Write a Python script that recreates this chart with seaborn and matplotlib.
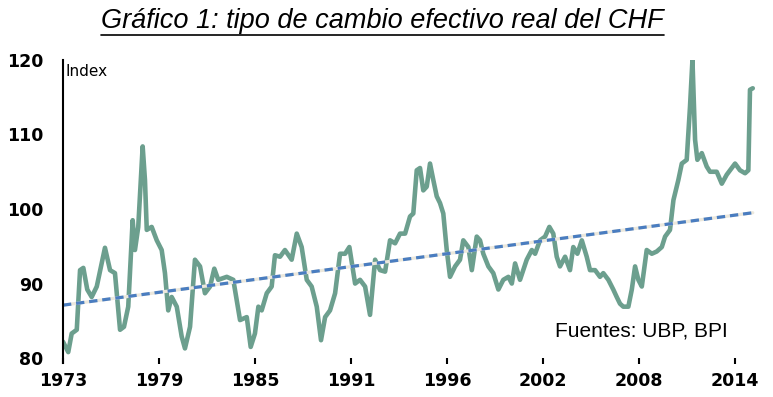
"""Gráfico 1: tipo de cambio efectivo real del CHF (index, with linear trend)."""

import matplotlib as mpl
import matplotlib.pyplot as plt
import numpy as np
import pandas as pd
import seaborn as sns
from matplotlib.lines import Line2D

# --- data --------------------------------------------------------------
years = [
    1973.00, 1973.32, 1973.53, 1973.84, 1974.04, 1974.24, 1974.48, 1974.75,
    1975.06, 1975.56, 1975.87, 1976.17, 1976.48, 1976.72, 1976.98, 1977.25,
    1977.39, 1977.59, 1977.86, 1978.00, 1978.11, 1978.41, 1978.72, 1979.02,
    1979.22, 1979.42, 1979.63, 1979.94, 1980.24, 1980.44, 1980.75, 1981.05,
    1981.36, 1981.66, 1981.97, 1982.23, 1982.47, 1982.99, 1983.39, 1983.80,
    1984.21, 1984.45, 1984.71, 1984.92, 1985.12, 1985.43, 1985.73, 1985.93,
    1986.24, 1986.54, 1986.95, 1987.26, 1987.56, 1987.87, 1988.17, 1988.48,
    1988.74, 1988.99, 1989.29, 1989.60, 1989.90, 1990.21, 1990.47, 1990.82,
    1991.12, 1991.43, 1991.73, 1992.04, 1992.34, 1992.65, 1992.95, 1993.26,
    1993.56, 1993.87, 1994.17, 1994.37, 1994.58, 1994.78, 1994.98, 1995.19,
    1995.39, 1995.59, 1995.80, 1996.00, 1996.20, 1996.41, 1996.61, 1996.92,
    1997.22, 1997.42, 1997.73, 1997.94, 1998.24, 1998.44, 1998.64, 1998.95,
    1999.25, 1999.56, 1999.86, 2000.17, 2000.38, 2000.58, 2000.88, 2001.29,
    2001.60, 2001.80, 2002.10, 2002.41, 2002.67, 2002.91, 2003.12, 2003.32,
    2003.63, 2003.93, 2004.13, 2004.38, 2004.65, 2004.95, 2005.15, 2005.46,
    2005.76, 2005.96, 2006.27, 2006.57, 2006.78, 2006.98, 2007.18, 2007.49,
    2007.70, 2007.90, 2008.10, 2008.31, 2008.61, 2008.92, 2009.22, 2009.53,
    2009.73, 2010.03, 2010.24, 2010.54, 2010.75, 2011.05, 2011.25, 2011.40,
    2011.56, 2011.70, 2011.97, 2012.27, 2012.47, 2012.88, 2013.19, 2013.49,
    2014.00, 2014.30, 2014.61, 2014.81, 2014.91, 2015.08,
]
reer = [
    82.2, 80.8, 83.3, 83.8, 91.8, 92.1, 89.2, 88.2,
    89.6, 94.8, 91.8, 91.4, 83.8, 84.2, 86.9, 98.5,
    94.5, 97.6, 108.4, 103.9, 97.2, 97.6, 95.8, 94.5,
    91.4, 86.4, 88.2, 86.9, 82.9, 81.3, 84.2, 93.2,
    92.3, 88.7, 89.6, 92.0, 90.5, 90.9, 90.5, 85.1,
    85.5, 81.5, 83.3, 86.9, 86.4, 88.7, 89.6, 93.8,
    93.6, 94.5, 93.2, 96.7, 94.9, 90.5, 89.6, 86.9,
    82.4, 85.5, 86.4, 88.7, 94.0, 94.0, 94.9, 90.0,
    90.5, 89.6, 85.8, 93.2, 91.8, 91.6, 95.8, 95.4,
    96.7, 96.7, 99.0, 99.4, 105.2, 105.5, 102.5, 103.0,
    106.1, 103.9, 101.7, 100.8, 99.4, 94.5, 90.9, 92.3,
    93.2, 95.8, 94.9, 91.8, 96.3, 95.8, 94.0, 92.3,
    91.4, 89.2, 90.5, 90.9, 90.0, 92.7, 90.5, 93.2,
    94.5, 94.0, 95.8, 96.3, 97.6, 96.7, 93.6, 92.3,
    93.6, 91.8, 94.9, 94.0, 95.8, 93.6, 91.8, 91.8,
    90.9, 91.4, 90.5, 89.2, 88.2, 87.3, 86.9, 86.9,
    89.2, 92.3, 90.5, 89.6, 94.5, 94.0, 94.3, 94.9,
    96.3, 97.2, 101.2, 103.9, 106.1, 106.6, 113.7, 120.0,
    109.3, 106.6, 107.5, 105.7, 105.0, 105.0, 103.4, 104.6,
    106.1, 105.2, 104.8, 105.2, 116.0, 116.2,
]
trend_years = [1973.0, 2015.08]
trend_values = [87.1, 99.5]

year_labels = ["1973", "1979", "1985", "1991", "1996", "2002", "2008", "2014"]
y_ticks = [80, 90, 100, 110, 120]

TITLE = "Gráfico 1: tipo de cambio efectivo real del CHF"

sns.set_style("white")
mpl.rcParams["font.family"] = ["Liberation Sans", "DejaVu Sans"]
mpl.rcParams["text.color"] = "black"
mpl.rcParams["xtick.color"] = "black"
mpl.rcParams["ytick.color"] = "black"
mpl.rcParams["lines.scale_dashes"] = False


def main() -> None:
    df = pd.DataFrame({"year": years, "reer": reer})
    trend = pd.DataFrame({"year": trend_years, "value": trend_values})

    fig = plt.figure(figsize=(7.73, 3.97), dpi=100)
    ax = fig.add_axes([0.0815, 0.098, 0.897, 0.751])

    sns.lineplot(data=df, x="year", y="reer", color="#6C9F8E", linewidth=3.3, ax=ax)
    sns.lineplot(data=trend, x="year", y="value", color="#ECE8DC", linewidth=2.3, ax=ax)
    sns.lineplot(data=trend, x="year", y="value", color="#4A7DC0", linewidth=2.3,
                 dashes=False, ax=ax)
    ax.lines[-1].set_dashes((6, 3.5))

    ax.set_ylim(80, 120)
    ax.set_xlim(1973, 2015.3)
    ax.set_yticks(y_ticks)
    ax.set_yticklabels([str(v) for v in y_ticks])
    ax.set_xticks(np.linspace(1973, 2014, len(year_labels)))
    ax.set_xticklabels(year_labels)
    ax.set_xlabel("")
    ax.set_ylabel("")

    for side in ("top", "right", "bottom"):
        ax.spines[side].set_visible(False)
    ax.spines["left"].set_color("black")
    ax.spines["left"].set_linewidth(1.5)
    ax.spines["left"].set_bounds(79.4, 120)

    ax.tick_params(axis="y", left=False, length=0, pad=14)
    ax.tick_params(axis="x", bottom=True, length=4, width=1.5, direction="out",
                   pad=6, color="black")
    for lbl in ax.get_xticklabels() + ax.get_yticklabels():
        lbl.set_fontfamily(["DejaVu Sans"])
        lbl.set_fontweight("bold")
        lbl.set_fontsize(12.5)
        lbl.set_color("black")

    ax.text(0.004, 0.985, "Index", transform=ax.transAxes, ha="left", va="top",
            fontsize=11, family=["DejaVu Sans"])
    ax.text(0.834, 0.09, "Fuentes: UBP, BPI", transform=ax.transAxes, ha="center",
            va="center", fontsize=15)

    title = fig.text(0.495, 0.948, TITLE, ha="center", va="center",
                     fontsize=19.5, style="italic")

    # underline the title
    fig.canvas.draw()
    bb = title.get_window_extent(fig.canvas.get_renderer())
    inv = fig.transFigure.inverted()
    (x0, y0), (x1, _) = inv.transform([(bb.x0, bb.y0 - 1), (bb.x1, bb.y0)])
    fig.add_artist(Line2D([x0, x1], [y0, y0], transform=fig.transFigure,
                          color="black", linewidth=1.2))

    fig.savefig("out.png", dpi=100)


if __name__ == "__main__":
    main()
